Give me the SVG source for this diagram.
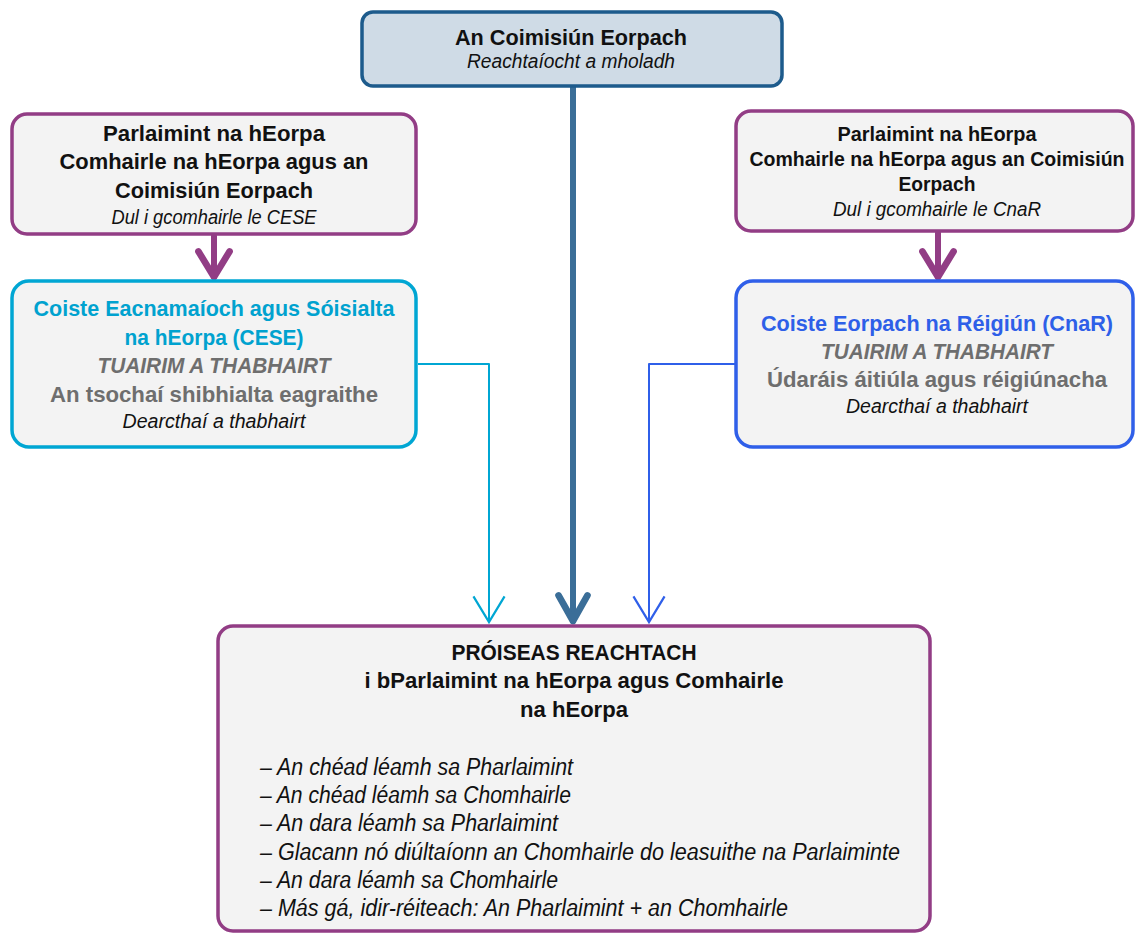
<svg xmlns="http://www.w3.org/2000/svg" width="1135" height="934" viewBox="0 0 1135 934">
<defs>
<style>
text{font-family:"Liberation Sans",Arial,sans-serif;text-anchor:middle;fill:#111;}
.b{font-weight:bold;font-size:21.5px;}
.bs{font-weight:bold;font-size:19.5px;}
.i{font-style:italic;font-size:20px;}
.gi{font-style:italic;font-weight:bold;font-size:21.5px;fill:#6e6e6e;}
.g{font-weight:bold;font-size:21.5px;fill:#6e6e6e;}
.li{font-style:italic;font-size:23px;text-anchor:start;}
.box{fill:#f3f3f3;stroke-width:3.5;}
.pur{stroke:#923d85;}
.conn{fill:none;stroke-linecap:round;stroke-linejoin:round;}
</style>
<marker id="hPur" markerUnits="userSpaceOnUse" markerWidth="40" markerHeight="40" viewBox="-5 -18 36 36" refX="23" refY="0" orient="auto" overflow="visible">
<path d="M0,-14 L23,0 L0,14" fill="none" stroke="#923d85" stroke-width="6" stroke-linecap="round" stroke-linejoin="round"/>
</marker>
<marker id="hBlueD" markerUnits="userSpaceOnUse" markerWidth="40" markerHeight="40" viewBox="-5 -18 36 36" refX="23" refY="0" orient="auto" overflow="visible">
<path d="M0,-13 L23,0 L0,13" fill="none" stroke="#3b6e98" stroke-width="6" stroke-linecap="round" stroke-linejoin="round"/>
</marker>
<marker id="hCyan" markerUnits="userSpaceOnUse" markerWidth="40" markerHeight="40" viewBox="-5 -18 36 36" refX="23" refY="0" orient="auto" overflow="visible">
<path d="M0,-14 L23,0 L0,14" fill="none" stroke="#00a6d3" stroke-width="2"/>
</marker>
<marker id="hBlue" markerUnits="userSpaceOnUse" markerWidth="40" markerHeight="40" viewBox="-5 -18 36 36" refX="23" refY="0" orient="auto" overflow="visible">
<path d="M0,-14 L23,0 L0,14" fill="none" stroke="#2f5fe9" stroke-width="2"/>
</marker>
</defs>
<rect width="1135" height="934" fill="#ffffff"/>

<g id="connectors" class="conn">
<path d="M573,87 V621" stroke="#3b6e98" stroke-width="6" marker-end="url(#hBlueD)"/>
<path d="M214,236 V277" stroke="#923d85" stroke-width="6" marker-end="url(#hPur)"/>
<path d="M938,233 V277" stroke="#923d85" stroke-width="6" marker-end="url(#hPur)"/>
<path d="M418,364 H489 V622" stroke="#00a6d3" stroke-width="2" stroke-linecap="butt" marker-end="url(#hCyan)"/>
<path d="M735,364 H649 V622" stroke="#2f5fe9" stroke-width="2" stroke-linecap="butt" marker-end="url(#hBlue)"/>
</g>

<g id="commission">
<rect x="362" y="12" width="420" height="74" rx="11" fill="#cfdbe6" stroke="#1d5b8c" stroke-width="3.5"/>
<text class="b" x="571" y="45" textLength="232" lengthAdjust="spacingAndGlyphs">An Coimisiún Eorpach</text>
<text class="i" x="571" y="68" textLength="208" lengthAdjust="spacingAndGlyphs">Reachtaíocht a mholadh</text>
</g>

<g id="consult-cese">
<rect class="box pur" x="12" y="114" width="404" height="120" rx="15"/>
<text class="b" x="214" y="141" textLength="222" lengthAdjust="spacingAndGlyphs">Parlaimint na hEorpa</text>
<text class="b" x="214" y="169" textLength="309" lengthAdjust="spacingAndGlyphs">Comhairle na hEorpa agus an</text>
<text class="b" x="214" y="198" textLength="198" lengthAdjust="spacingAndGlyphs">Coimisiún Eorpach</text>
<text class="i" x="214" y="224" textLength="205" lengthAdjust="spacingAndGlyphs">Dul i gcomhairle le CESE</text>
</g>

<g id="cese">
<rect class="box" x="12" y="281" width="404" height="166" rx="17" stroke="#00a6d3"/>
<text class="b" x="214" y="316" style="fill:#00a2cf" textLength="361" lengthAdjust="spacingAndGlyphs">Coiste Eacnamaíoch agus Sóisialta</text>
<text class="b" x="214" y="345" style="fill:#00a2cf" textLength="179" lengthAdjust="spacingAndGlyphs">na hEorpa (CESE)</text>
<text class="gi" x="214" y="373" textLength="233" lengthAdjust="spacingAndGlyphs">TUAIRIM A THABHAIRT</text>
<text class="g" x="214" y="402" textLength="328" lengthAdjust="spacingAndGlyphs">An tsochaí shibhialta eagraithe</text>
<text class="i" x="214" y="428" textLength="183" lengthAdjust="spacingAndGlyphs">Dearcthaí a thabhairt</text>
</g>

<g id="consult-cnar">
<rect class="box pur" x="736" y="111" width="397" height="120" rx="15"/>
<text class="bs" x="937" y="141" textLength="199" lengthAdjust="spacingAndGlyphs">Parlaimint na hEorpa</text>
<text class="bs" x="937" y="166" textLength="375" lengthAdjust="spacingAndGlyphs">Comhairle na hEorpa agus an Coimisiún</text>
<text class="bs" x="937" y="191" textLength="77" lengthAdjust="spacingAndGlyphs">Eorpach</text>
<text class="i" x="937" y="216" textLength="208" lengthAdjust="spacingAndGlyphs">Dul i gcomhairle le CnaR</text>
</g>

<g id="cnar">
<rect class="box" x="736" y="281" width="397" height="166" rx="17" stroke="#2f5fe9"/>
<text class="b" x="937" y="331" style="fill:#2e5fe8" textLength="352" lengthAdjust="spacingAndGlyphs">Coiste Eorpach na Réigiún (CnaR)</text>
<text class="gi" x="937" y="359" textLength="232" lengthAdjust="spacingAndGlyphs">TUAIRIM A THABHAIRT</text>
<text class="g" x="937" y="387" textLength="340" lengthAdjust="spacingAndGlyphs">Údaráis áitiúla agus réigiúnacha</text>
<text class="i" x="937" y="413" textLength="182" lengthAdjust="spacingAndGlyphs">Dearcthaí a thabhairt</text>
</g>

<g id="legislative">
<rect class="box pur" x="218" y="626" width="712" height="305" rx="15"/>
<text class="b" x="574" y="660" textLength="245" lengthAdjust="spacingAndGlyphs">PRÓISEAS REACHTACH</text>
<text class="b" x="574" y="688" textLength="419" lengthAdjust="spacingAndGlyphs">i bParlaimint na hEorpa agus Comhairle</text>
<text class="b" x="574" y="717" textLength="108" lengthAdjust="spacingAndGlyphs">na hEorpa</text>
<text class="li" x="260" y="775" textLength="313" lengthAdjust="spacingAndGlyphs">– An chéad léamh sa Pharlaimint</text>
<text class="li" x="260" y="803" textLength="311" lengthAdjust="spacingAndGlyphs">– An chéad léamh sa Chomhairle</text>
<text class="li" x="260" y="831" textLength="298" lengthAdjust="spacingAndGlyphs">– An dara léamh sa Pharlaimint</text>
<text class="li" x="260" y="860" textLength="640" lengthAdjust="spacingAndGlyphs">– Glacann nó diúltaíonn an Chomhairle do leasuithe na Parlaiminte</text>
<text class="li" x="260" y="888" textLength="298" lengthAdjust="spacingAndGlyphs">– An dara léamh sa Chomhairle</text>
<text class="li" x="260" y="916" textLength="528" lengthAdjust="spacingAndGlyphs">– Más gá, idir-réiteach: An Pharlaimint + an Chomhairle</text>
</g>
</svg>
